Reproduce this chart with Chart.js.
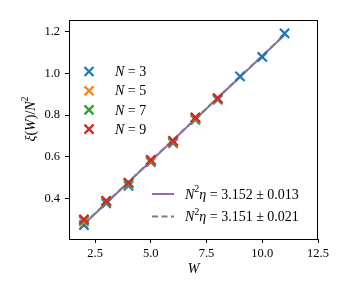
<!DOCTYPE html>
<html>
<head>
<meta charset="utf-8">
<script src="https://cdn.jsdelivr.net/npm/chart.js@4.4.1/dist/chart.umd.min.js"></script>
<style>
  html, body { margin: 0; padding: 0; background: #fff; }
  #wrap { width: 338px; height: 300px; }
</style>
</head>
<body>
<div id="wrap"><canvas id="xiChart"></canvas></div>
<script>
var wValues = [2, 3, 4, 5, 6, 7, 8, 9, 10, 11]
var n3Values = [0.274, 0.378, 0.462, 0.575, 0.666, 0.778, 0.874, 0.986, 1.079, 1.192]
var n5Values = [0.290, 0.386, 0.470, 0.580, 0.672, 0.784, 0.878]
var n7Values = [0.297, 0.388, 0.474, 0.584, 0.675, 0.787, 0.880]
var n9Values = [0.301, 0.390, 0.477, 0.586, 0.677, 0.789, 0.882]
var fitW = [2, 11]
var fitA = [0.278, 1.184]
var fitB = [0.280, 1.186]
var xTicks = [2.5, 5.0, 7.5, 10.0, 12.5]
var yTicks = [0.4, 0.6, 0.8, 1.0, 1.2]
var seriesLabels = ["3", "5", "7", "9"]
var fitLabels = [["3.152", "0.013"], ["3.151", "0.021"]]

var colors = ['#1f77b4', '#ff7f0e', '#2ca02c', '#d62728']
var serif = "'Liberation Serif', 'DejaVu Serif', serif"

function toXY(xs, ys){
  return ys.map(function(y, i){ return {x: xs[i], y: y} })
}

function pointSet(values, color, order){
  return {
    type: 'scatter',
    data: toXY(wValues, values),
    pointStyle: 'crossRot',
    radius: 6.5,
    borderWidth: 2.2,
    borderColor: color,
    backgroundColor: color,
    order: order
  }
}

// text pieces: [text, italic, superscript]
function partFont(p, size){
  return (p[1] ? 'italic ' : '') + (p[2] ? Math.round(size * 0.68) : size) + 'px ' + serif
}

function richWidth(ctx, parts, size){
  var w = 0
  parts.forEach(function(p){
    ctx.font = partFont(p, size)
    w += ctx.measureText(p[0]).width
  })
  return w
}

function richText(ctx, parts, x, y, size){
  parts.forEach(function(p){
    ctx.font = partFont(p, size)
    ctx.fillText(p[0], x, p[2] ? y - size * 0.38 : y)
    x += ctx.measureText(p[0]).width
  })
}

var legendPlugin = {
  id: 'legends',
  afterDraw: function(chart){
    var ctx = chart.ctx
    var a = chart.chartArea
    ctx.save()
    // top and right frame
    ctx.strokeStyle = '#000'
    ctx.lineWidth = 1
    ctx.strokeRect(a.left + 0.5, a.top + 0.5, a.right - a.left - 1, a.bottom - a.top)
    ctx.fillStyle = '#000'
    ctx.textBaseline = 'middle'
    // marker legend
    seriesLabels.forEach(function(lab, i){
      var cx = 89, cy = 71.5 + i * 19.2
      ctx.strokeStyle = colors[i]
      ctx.lineWidth = 2.2
      ctx.beginPath()
      ctx.moveTo(cx - 4.5, cy - 4.5); ctx.lineTo(cx + 4.5, cy + 4.5)
      ctx.moveTo(cx - 4.5, cy + 4.5); ctx.lineTo(cx + 4.5, cy - 4.5)
      ctx.stroke()
      ctx.fillStyle = '#000'
      richText(ctx, [['N', true], [' = ' + lab, false]], 115, cy + 1, 14)
    })
    // fit legend
    fitLabels.forEach(function(lab, i){
      var cy = 194 + i * 22.5
      ctx.strokeStyle = i == 0 ? '#9467bd' : '#7f7f7f'
      ctx.lineWidth = 2
      ctx.setLineDash(i == 0 ? [] : [6, 3.5])
      ctx.beginPath()
      ctx.moveTo(152, cy); ctx.lineTo(174, cy)
      ctx.stroke()
      ctx.setLineDash([])
      richText(ctx, [['N', true], ['2', false, true], ['η', true], [' = ' + lab[0] + ' ± ' + lab[1], false]], 185, cy + 1, 14)
    })
    // y axis title
    var yTitle = [['ξ', true], ['(', false], ['W', true], [')/', false], ['N', true], ['2', false, true]]
    ctx.translate(31, 119)
    ctx.rotate(-Math.PI / 2)
    richText(ctx, yTitle, -richWidth(ctx, yTitle, 14) / 2, 0, 14)
    ctx.restore()
  }
}

var ctx = document.getElementById('xiChart').getContext('2d')
var myChart = new Chart(ctx, {
  type: 'scatter',
  plugins: [legendPlugin],
  data: {
    datasets: [
      pointSet(n3Values, colors[0], 3),
      pointSet(n5Values, colors[1], 2),
      pointSet(n7Values, colors[2], 1),
      pointSet(n9Values, colors[3], 0),
      {
        type: 'line',
        data: toXY(fitW, fitA),
        borderColor: '#9467bd',
        borderWidth: 2,
        pointRadius: 0,
        order: 5
      },
      {
        type: 'line',
        data: toXY(fitW, fitB),
        borderColor: '#7f7f7f',
        borderWidth: 2,
        borderDash: [6, 3.5],
        pointRadius: 0,
        order: 4
      }
    ]
  },
  options: {
    responsive: true,
    maintainAspectRatio: false,
    animation: false,
    layout: { padding: { left: 22, right: 20, top: 20, bottom: 21 } },
    plugins: {
      legend: { display: false },
      tooltip: { enabled: false }
    },
    scales: {
      x: {
        type: 'linear',
        min: 1.33,
        max: 12.5,
        afterBuildTicks: function(scale){ scale.ticks = xTicks.map(function(v){ return {value: v} }) },
        afterFit: function(scale){ scale.height = 40 },
        grid: { drawOnChartArea: false, drawTicks: true, tickLength: 4, color: '#000' },
        border: { display: true, color: '#000' },
        ticks: {
          color: '#000',
          padding: 3,
          maxRotation: 0,
          font: { family: serif, size: 12.5 },
          callback: function(v){ return v.toFixed(1) }
        },
        title: {
          display: true,
          text: 'W',
          color: '#000',
          padding: { top: 0, bottom: 1 },
          font: { family: serif, size: 14, style: 'italic' }
        }
      },
      y: {
        type: 'linear',
        min: 0.207,
        max: 1.256,
        afterBuildTicks: function(scale){ scale.ticks = yTicks.map(function(v){ return {value: v} }) },
        afterFit: function(scale){ scale.width = 47 },
        grid: { drawOnChartArea: false, drawTicks: true, tickLength: 4, color: '#000' },
        border: { display: true, color: '#000' },
        ticks: {
          color: '#000',
          padding: 5,
          font: { family: serif, size: 12.5 },
          callback: function(v){ return v.toFixed(1) }
        }
      }
    }
  }
})
</script>
